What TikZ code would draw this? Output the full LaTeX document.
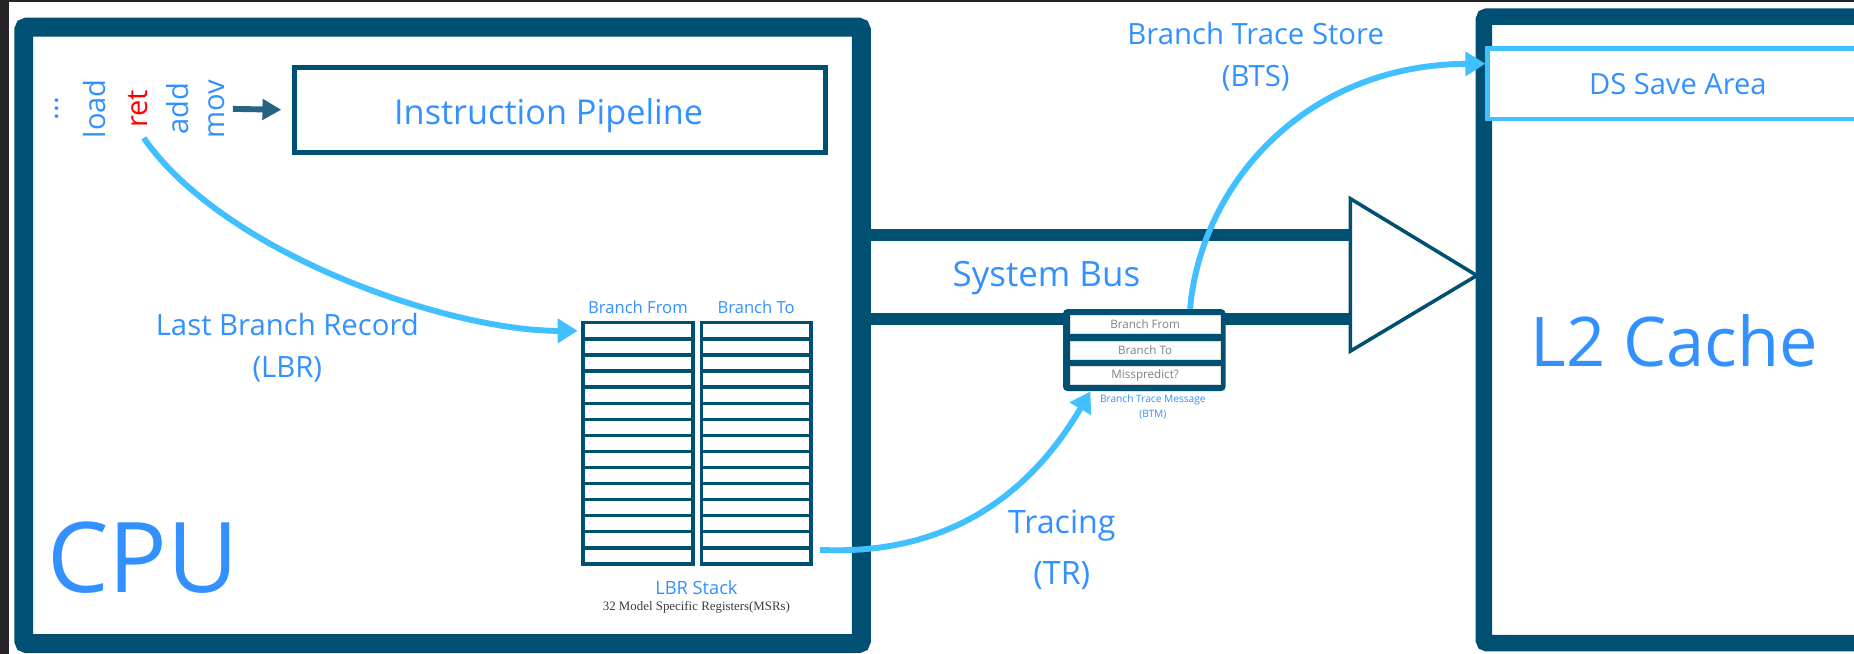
\documentclass[tikz,border=0pt]{standalone}
\usepackage{fontspec}
\setmainfont{Open Sans}
\newfontfamily\msrfont{Liberation Serif}
\usetikzlibrary{positioning,calc,arrows.meta}
\definecolor{cpublue}{RGB}{0,80,115}
\definecolor{traceblue}{RGB}{64,192,255}
\definecolor{textblue}{RGB}{51,144,255}
\definecolor{pagedark}{RGB}{37,37,40}
\definecolor{msrgray}{RGB}{60,60,60}
\definecolor{movblue}{RGB}{40,100,130}

\tikzset{
  unitbox/.style={draw=cpublue, line width=0.32cm, rounded corners=1.5pt, inner sep=0pt},
  pipebox/.style={draw=cpublue, line width=0.085cm, inner sep=0pt},
  instr/.style={rotate=90, inner sep=1pt, text=textblue, font=\fontsize{14}{14}\selectfont},
  lbl/.style={text=textblue, align=center, font=\fontsize{14.1}{20.5}\selectfont},
  smalllbl/.style={text=textblue, inner sep=0pt, font=\fontsize{8}{8}\selectfont},
  cell/.style={draw=cpublue, line width=0.056cm, minimum width=1.86cm, minimum height=0.272cm, inner sep=0pt},
  bus/.style={draw=cpublue, line width=0.2cm},
  busend/.style={draw=cpublue, fill=white, line width=0.06cm, line join=miter},
  btmbox/.style={fill=cpublue, rounded corners=2pt, inner sep=0pt},
  btmrow/.style={fill=white, draw=gray!25, line width=0.2pt, minimum width=2.54cm, minimum height=0.31cm, inner sep=0pt, text=gray, font=\fontsize{5.6}{6}\selectfont},
  dsbox/.style={draw=traceblue, fill=white, line width=0.07cm, inner sep=0pt, text=textblue, font=\fontsize{14}{14}\selectfont},
  trace/.style={draw=traceblue, line width=0.1cm, -{Triangle[length=0.34cm, width=0.4cm]}},
  movarrow/.style={draw=movblue, line width=0.1cm, -{Triangle[length=0.32cm, width=0.34cm]}}
}

\begin{document}
\begin{tikzpicture}[x=0.02cm, y=-0.02cm]
% page
\clip (0,0) rectangle (1568,553);
\fill[pagedark] (0,0) rectangle (1568,553);
\fill[white] (7.6,1.7) rectangle (1568,553);

% CPU
\node[unitbox, minimum width=14.17cm, minimum height=10.43cm] (cpu) at (374.3,283.65) {};
\node[text=textblue, font=\fontsize{47}{47}\selectfont] (cpulbl) at (121,472) {CPU};

% pipeline and instructions
\node[pipebox, minimum width=8.98cm, minimum height=1.44cm] (pipe) at (473.5,93) {};
\node[text=textblue, font=\fontsize{16.5}{16.5}\selectfont] (pipelbl) at (464,98) {Instruction Pipeline};
\node[instr] (dots) at (48,92) {...};
\node[instr] (load) at (80,92) {load};
\node[instr, text=red] (ret) at (117,92) {ret};
\node[instr] (add) at (150,92) {add};
\node[instr] (mov) at (183,92) {mov};
\draw[movarrow, shorten <=0.1cm, shorten >=0.18cm] (mov.south) -- (pipe.west);

% LBR stack
\foreach \i in {1,...,15} {
  \node[cell] (from\i) at (539.5,{266.2+13.6*\i}) {};
  \node[cell] (to\i) at (639.5,{266.2+13.6*\i}) {};
}
\node[smalllbl, above=0.12cm of from1] (fromlbl) {Branch From};
\node[smalllbl, above=0.12cm of to1] (tolbl) {Branch To};
\node[text=textblue, font=\fontsize{8.8}{8.8}\selectfont] (stacklbl) at (589,497) {LBR Stack};
\node[text=msrgray, font=\msrfont\fontsize{6.2}{6.2}\selectfont] (msrlbl) at (589,514) {32 Model Specific Registers(MSRs)};

\draw[trace, shorten <=0.16cm, shorten >=0.06cm] (ret.west) .. controls (190,215) and (380,280) .. (from1.west);
\node[lbl] (lbrlbl) at (243,294) {Last Branch Record\\(LBR)};

% system bus
\coordinate (tritop) at (1142,168);
\coordinate (tribot) at (1142,297);
\coordinate (tritip) at (1249,233);
\draw[bus] (cpu.east |- 0,199) -- (tritop |- 0,199);
\draw[bus] (cpu.east |- 0,269.5) -- (tritop |- 0,269.5);
\draw[busend] (tritop) -- (tritip) -- (tribot) -- cycle;
\node[text=textblue, font=\fontsize{16.8}{16.8}\selectfont] (buslbl) at (885,235) {System Bus};

% branch trace message
\node[btmbox, minimum width=2.75cm, minimum height=1.384cm] (btm) at (967.8,296.1) {};
\node[btmrow] (btmfrom) at (968.5,274) {Branch From};
\node[btmrow] (btmto) at (968.5,296) {Branch To};
\node[btmrow] (btmmiss) at (968.5,317.5) {Misspredict?};
\node[text=textblue, align=center, font=\fontsize{4.9}{7.4}\selectfont] (btmtxt) at (975,344) {Branch Trace Message\\(BTM)};

\draw[trace, shorten <=0.12cm] (to14.south east) .. controls (800,470) and (870,420) .. ($(btm.south west)!0.17!(btm.south east)$);
\node[lbl, font=\fontsize{15.5}{24.5}\selectfont] (tracelbl) at (898,465) {Tracing\\(TR)};

% L2 cache
\node[unitbox, line width=0.28cm, minimum width=6.44cm, minimum height=10.6cm] (ltwo) at (1416,279) {};
\node[text=textblue, font=\fontsize{33}{33}\selectfont] (ltwolbl) at (1416,288) {L2 Cache};
\node[dsbox, minimum width=6.44cm, minimum height=1.2cm] (dsarea) at (1419,71) {DS Save Area};

\draw[trace] ($(btm.north west)!0.78!(btm.north east)$) .. controls (1015,160) and (1100,55) .. ($(dsarea.north west)!0.23!(dsarea.south west)$);
\node[lbl] (btslbl) at (1062,48) {Branch Trace Store\\(BTS)};
\end{tikzpicture}
\end{document}
